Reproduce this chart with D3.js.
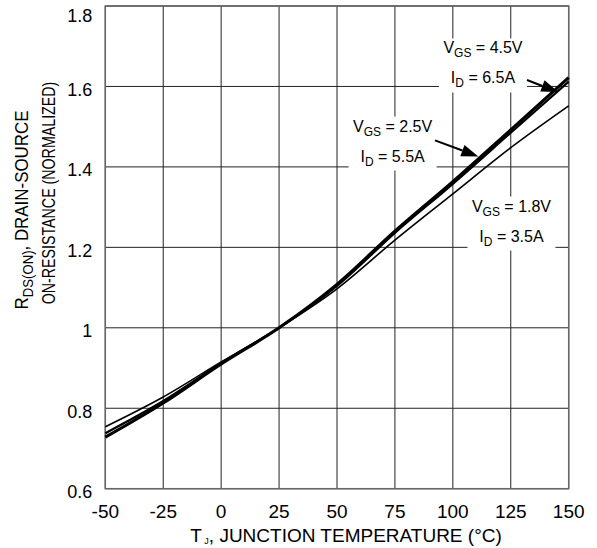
<!DOCTYPE html>
<html>
<head>
<meta charset="utf-8">
<script src="https://cdn.jsdelivr.net/npm/d3@7"></script>
<style>
  body { margin: 0; background: #fff; }
  text { font-family: "Liberation Sans", Arial, sans-serif; fill: #000; }
</style>
</head>
<body>
<div id="chart"></div>
<script>
// junction temperature (°C)
const temps = [-50, -25, 0, 25, 50, 75, 100, 125, 150];
// normalized on-resistance
const vgs45 = [0.728, 0.813, 0.910, 1.0, 1.108, 1.240, 1.363, 1.492, 1.622];
const vgs25 = [0.738, 0.818, 0.912, 1.0, 1.104, 1.236, 1.358, 1.485, 1.612];
const vgs18 = [0.754, 0.828, 0.915, 1.0, 1.097, 1.218, 1.333, 1.448, 1.552];

const xTicks = [-50, -25, 0, 25, 50, 75, 100, 125, 150];
const yTicks = [0.6, 0.8, 1, 1.2, 1.4, 1.6, 1.8];

const seriesNames = ["4.5V", "2.5V", "1.8V"];
const currents = ["6.5A", "5.5A", "3.5A"];

const W = 597, H = 548;
const plot = { left: 105.3, right: 568.7, top: 6, bottom: 488.7 };

const svg = d3.select("#chart")
  .append("svg")
  .attr("width", W)
  .attr("height", H);

const x = d3.scaleLinear().domain([-50, 150]).range([plot.left, plot.right]);
const y = d3.scaleLinear().domain([0.6, 1.8]).range([plot.bottom, plot.top]);

// grid
svg.append("g")
  .selectAll("line")
  .data(xTicks)
  .join("line")
  .attr("x1", d => x(d)).attr("x2", d => x(d))
  .attr("y1", plot.top).attr("y2", plot.bottom)
  .attr("stroke", "#222")
  .attr("stroke-width", 1);

svg.append("g")
  .selectAll("line")
  .data(yTicks)
  .join("line")
  .attr("x1", plot.left).attr("x2", plot.right)
  .attr("y1", d => y(d)).attr("y2", d => y(d))
  .attr("stroke", "#222")
  .attr("stroke-width", 1);

svg.append("rect")
  .attr("x", plot.left).attr("y", plot.top)
  .attr("width", plot.right - plot.left).attr("height", plot.bottom - plot.top)
  .attr("fill", "none")
  .attr("stroke", "#666")
  .attr("stroke-width", 1.5);

// tick labels
svg.append("g")
  .selectAll("text")
  .data(xTicks)
  .join("text")
  .attr("x", d => x(d))
  .attr("y", plot.bottom + 29)
  .attr("text-anchor", "middle")
  .style("font-size", "19px")
  .text(d => d);

svg.append("g")
  .selectAll("text")
  .data(yTicks)
  .join("text")
  .attr("x", plot.left - 13)
  .attr("y", d => Math.max(y(d) + 3, 16))
  .attr("dy", "0.35em")
  .attr("text-anchor", "end")
  .style("font-size", "18px")
  .text(d => d);

// curves
const line = d3.line()
  .x((d, i) => x(temps[i]))
  .y(d => y(d))
  .curve(d3.curveMonotoneX);

[[vgs18, 1.6], [vgs25, 2.2], [vgs45, 3.2]].forEach(([vals, w]) => {
  svg.append("path")
    .datum(vals)
    .attr("fill", "none")
    .attr("stroke", "#000")
    .attr("stroke-width", w)
    .attr("d", line);
});

// annotations
const notes = [
  { t: 113, v: 1.682, arrow: [132, 1.616, 145.5, 1.586] },
  { t: 74, v: 1.488, arrow: [92.3, 1.466, 111, 1.426] },
  { t: 125.3, v: 1.289, arrow: null }
];

notes.forEach((n, i) => {
  const cx = x(n.t), by = y(n.v);
  svg.append("rect")
    .attr("x", cx - 44).attr("y", by - 15)
    .attr("width", 88).attr("height", 54)
    .attr("fill", "#fff");

  const t1 = svg.append("text")
    .attr("x", cx).attr("y", by)
    .attr("text-anchor", "middle")
    .style("font-size", "16px");
  t1.append("tspan").text("V");
  t1.append("tspan").attr("dy", 4).style("font-size", "12px").text("GS");
  t1.append("tspan").attr("dy", -4).text(" = " + seriesNames[i]);

  const t2 = svg.append("text")
    .attr("x", cx).attr("y", by + 30)
    .attr("text-anchor", "middle")
    .style("font-size", "16px");
  t2.append("tspan").text("I");
  t2.append("tspan").attr("dy", 4).style("font-size", "12px").text("D");
  t2.append("tspan").attr("dy", -4).text(" = " + currents[i]);

  if (n.arrow) {
    const x1 = x(n.arrow[0]), y1 = y(n.arrow[1]);
    const x2 = x(n.arrow[2]), y2 = y(n.arrow[3]);
    const a = Math.atan2(y2 - y1, x2 - x1);
    const len = 17, half = 6;
    const bx = x2 - len * Math.cos(a), byy = y2 - len * Math.sin(a);
    svg.append("line")
      .attr("x1", x1).attr("y1", y1)
      .attr("x2", bx).attr("y2", byy)
      .attr("stroke", "#000")
      .attr("stroke-width", 2);
    svg.append("path")
      .attr("d", `M${x2},${y2}L${bx + half * Math.sin(a)},${byy - half * Math.cos(a)}L${bx - half * Math.sin(a)},${byy + half * Math.cos(a)}Z`)
      .attr("fill", "#000");
  }
});

// axis titles
const xt = svg.append("text")
  .attr("x", 346)
  .attr("y", 542)
  .attr("text-anchor", "middle")
  .style("font-size", "19px");
xt.append("tspan").text("T");
xt.append("tspan").attr("dy", 2).style("font-size", "9px").text(" J");
xt.append("tspan").attr("dy", -2).text(", JUNCTION TEMPERATURE (°C)");

const yt1 = svg.append("text")
  .attr("transform", "translate(28,210) rotate(-90) scale(0.94,1)")
  .attr("text-anchor", "middle")
  .style("font-size", "18px");
yt1.append("tspan").text("R");
yt1.append("tspan").attr("dy", 5).style("font-size", "14px").text("DS(ON)");
yt1.append("tspan").attr("dy", -5).text(", DRAIN-SOURCE");

svg.append("text")
  .attr("transform", "translate(55,193) rotate(-90) scale(0.79,1)")
  .attr("text-anchor", "middle")
  .style("font-size", "18px")
  .text("ON-RESISTANCE (NORMALIZED)");
</script>
</body>
</html>
